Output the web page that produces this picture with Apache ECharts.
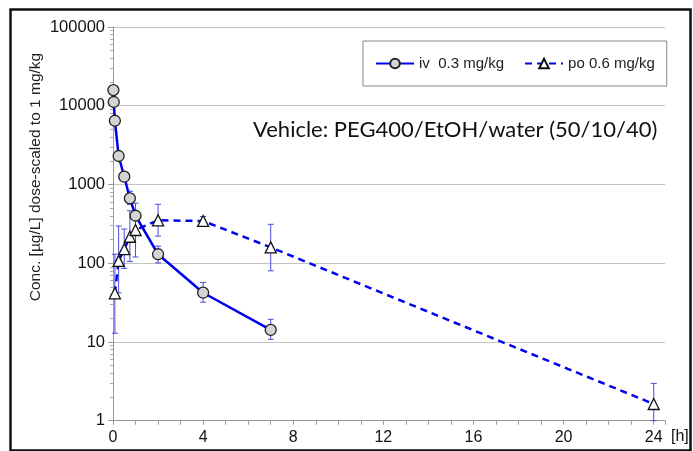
<!DOCTYPE html>
<html>
<head>
<meta charset="utf-8">
<script src="https://cdn.jsdelivr.net/npm/echarts@6/dist/echarts.min.js"></script>
<style>html,body{margin:0;padding:0;background:#fff}#c{width:693px;height:451px}</style>
</head>
<body>
<div id="c"></div>
<script>
// ---- data ----
const ivName = 'iv  0.3 mg/kg';
const poName = 'po 0.6 mg/kg';
const ivTime = [0.017, 0.033, 0.083, 0.25, 0.5, 0.75, 1, 2, 4, 7];
const ivConc = [15800, 11150, 6450, 2300, 1255, 667, 401, 130, 42.2, 14.2];
const ivLow  = [null, null, null, null, 1130, 560, null, 101, 32, 10.8];
const ivHigh = [null, null, null, null, 1400, 820, null, 165, 57, 19.4];
const poTime = [0.083, 0.25, 0.5, 0.75, 1, 2, 4, 7, 24];
const poConc = [41.5, 107, 151, 217, 264, 351, 344, 159, 1.63];
const poLow  = [12.9, 42, 86, 105, 120, 221, 300, 80, 1.0];
const poHigh = [130, 297, 272, 464, 577, 560, 392, 312, 2.98];
const xTicks = [0, 4, 8, 12, 16, 20, 24];
const yTicks = [1, 10, 100, 1000, 10000, 100000];
const yTitle = 'Conc. [µg/L] dose-scaled to 1 mg/kg';
const note = 'Vehicle: PEG400/EtOH/water (50/10/40)';
const xUnit = '[h]';

const chart = echarts.init(document.getElementById('c'));
const font = 'Liberation Sans, Arial, sans-serif';

function pairs(t, v) { return t.map((x, i) => [x, v[i]]); }
function bars(t, lo, hi) {
  const out = [];
  t.forEach((x, i) => { if (lo[i] != null) out.push([x, lo[i], hi[i]]); });
  return out;
}
function errRender(color) {
  return function (params, api) {
    const x = api.value(0);
    const a = api.coord([x, api.value(1)]);
    const b = api.coord([x, api.value(2)]);
    const w = 3;
    const st = { stroke: color, lineWidth: 1 };
    return {
      type: 'group',
      children: [
        { type: 'line', shape: { x1: a[0], y1: a[1], x2: b[0], y2: b[1] }, style: st },
        { type: 'line', shape: { x1: a[0] - w, y1: a[1], x2: a[0] + w, y2: a[1] }, style: st },
        { type: 'line', shape: { x1: b[0] - w, y1: b[1], x2: b[0] + w, y2: b[1] }, style: st }
      ]
    };
  };
}

const errColor = '#4a4ae0';
const lineColor = '#0000f0';

chart.setOption({
  animation: false,
  backgroundColor: '#fff',
  grid: { left: 113, right: 28, top: 27, bottom: 30.3 },
  legend: {
    left: 363, top: 41,
    padding: [15, 12, 15, 12],
    borderColor: '#888', borderWidth: 1,
    itemWidth: 38, itemHeight: 12, itemGap: 20,
    textStyle: { fontFamily: font, fontSize: 15, color: '#222' },
    data: [ivName, poName]
  },
  xAxis: {
    type: 'value', min: 0, max: 24.5, interval: 4,
    axisLine: { lineStyle: { color: '#999' } },
    axisTick: { show: true, length: 4, lineStyle: { color: '#999' } },
    minorTick: { show: true, splitNumber: 4, length: 4, lineStyle: { color: '#999' } },
    splitLine: { show: false },
    axisLabel: {
      fontFamily: font, fontSize: 16, color: '#111', margin: 9,
      formatter: v => (xTicks.indexOf(v) >= 0 ? String(v) : '')
    }
  },
  yAxis: {
    type: 'log', logBase: 10, min: yTicks[0], max: yTicks[yTicks.length - 1],
    axisLine: { show: true, lineStyle: { color: '#999' } },
    axisTick: { show: true, length: 5, lineStyle: { color: '#999' } },
    minorTick: { show: true, splitNumber: 9, length: 3, lineStyle: { color: '#aaa' } },
    splitLine: { show: true, lineStyle: { color: '#c4c4c4', width: 1 } },
    axisLabel: { fontFamily: font, fontSize: 16.5, color: '#111', margin: 8,
      formatter: v => String(Math.round(v)) }
  },
  graphic: [
    { type: 'rect', left: 8, top: 7, shape: { width: 680, height: 441 },
      style: { fill: 'none', stroke: '#111', lineWidth: 2.5 }, z: 100 },
    { type: 'text', x: 36, y: 177, rotation: Math.PI / 2,
      style: { text: yTitle, font: '15.5px ' + font, fill: '#222', align: 'center', verticalAlign: 'middle' } },
    { type: 'text', x: 253, y: 130,
      style: { text: note, font: '22px Lato, sans-serif', fill: '#111', align: 'left', verticalAlign: 'middle' } },
    { type: 'text', x: 671, y: 437,
      style: { text: xUnit, font: '16px ' + font, fill: '#111', align: 'left', verticalAlign: 'middle' } }
  ],
  series: [
    { type: 'custom', name: 'ivErr', data: bars(ivTime, ivLow, ivHigh),
      renderItem: errRender(errColor), z: 1, silent: true },
    { type: 'custom', name: 'poErr', data: bars(poTime, poLow, poHigh),
      renderItem: errRender(errColor), z: 1, silent: true },
    { type: 'line', name: poName, data: pairs(poTime, poConc),
      symbol: 'triangle', symbolSize: 11,
      lineStyle: { color: lineColor, width: 2.5, type: [7, 5] },
      itemStyle: { color: '#fff', borderColor: '#111', borderWidth: 1.3 },
      z: 3 },
    { type: 'line', name: ivName, data: pairs(ivTime, ivConc),
      symbol: 'circle', symbolSize: 11,
      lineStyle: { color: lineColor, width: 2.5 },
      itemStyle: { color: '#d4d4d4', borderColor: '#222', borderWidth: 1.3 },
      z: 4 }
  ]
});
</script>
</body>
</html>
